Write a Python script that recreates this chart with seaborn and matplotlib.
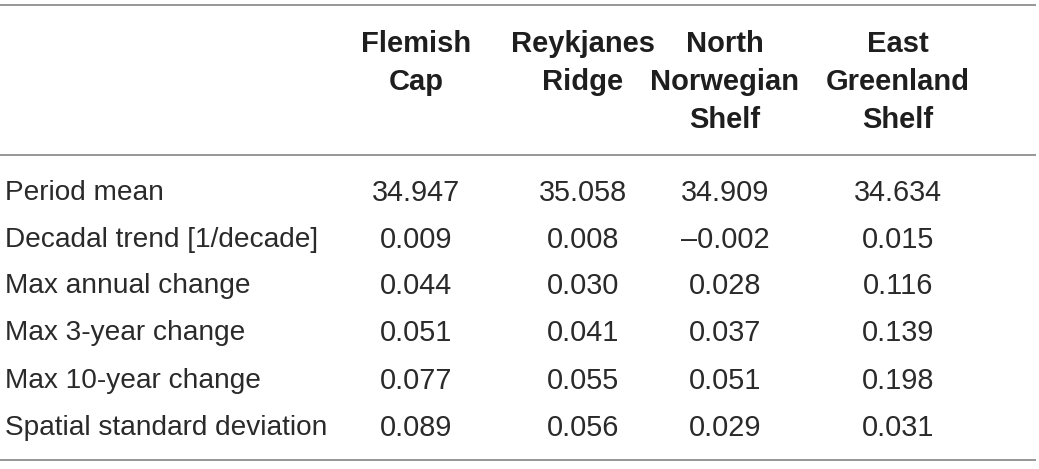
import matplotlib
matplotlib.use("Agg")
import matplotlib.pyplot as plt
import seaborn as sns

# table content
columns = ["Flemish\nCap", "Reykjanes\nRidge", "North\nNorwegian\nShelf", "East\nGreenland\nShelf"]
row_labels = ["Period mean", "Decadal trend [1/decade]", "Max annual change",
              "Max 3-year change", "Max 10-year change", "Spatial standard deviation"]
flemish_cap = ["34.947", "0.009", "0.044", "0.051", "0.077", "0.089"]
reykjanes_ridge = ["35.058", "0.008", "0.030", "0.041", "0.055", "0.056"]
north_norwegian = ["34.909", "\u20130.002", "0.028", "0.037", "0.051", "0.029"]
east_greenland = ["34.634", "0.015", "0.116", "0.139", "0.198", "0.031"]

sns.set_theme(style="white")
plt.rcParams["font.family"] = ["Liberation Sans", "DejaVu Sans"]

fig = plt.figure(figsize=(10.39, 4.69), dpi=100)
ax = fig.add_axes([0, 0, 1, 1])
ax.set_xlim(0, 1039)
ax.set_ylim(469, 0)
ax.axis("off")

col_x = [416, 583, 725, 898]
header_lines_y = [44, 82, 120]
row_y = [193, 240, 286, 333, 381, 428]
text_color = "#2a2a2a"

# rules
for y in [5, 155, 460]:
    ax.plot([0, 1036], [y, y], color="#8f8f8f", lw=1.3, solid_capstyle="butt")

# header
for x, name in zip(col_x, columns):
    parts = name.split("\n")
    for i, part in enumerate(parts):
        ax.text(x, header_lines_y[i], part, ha="center", va="center",
                fontsize=21, fontweight="bold", color="#1e1e1e")

# body
series = [flemish_cap, reykjanes_ridge, north_norwegian, east_greenland]
for j, label in enumerate(row_labels):
    ax.text(5, row_y[j], label, ha="left", va="center", fontsize=20.2, color=text_color)
    for x, vals in zip(col_x, series):
        ax.text(x, row_y[j], vals[j], ha="center", va="center", fontsize=20.8, color=text_color)

fig.savefig("out.png", dpi=100, facecolor="white")
